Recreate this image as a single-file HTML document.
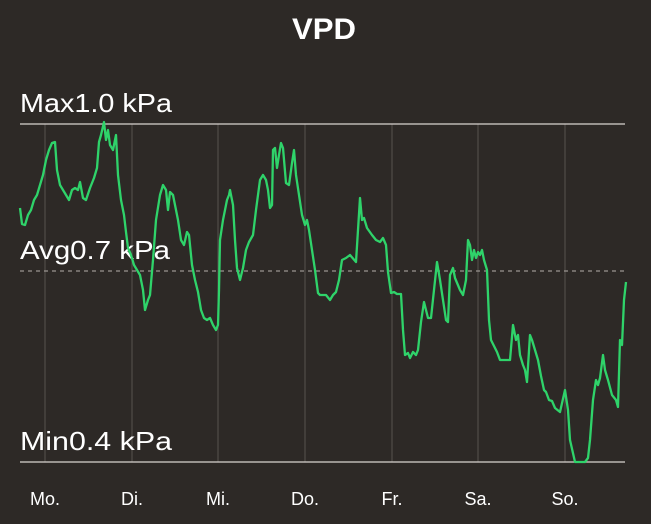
<!DOCTYPE html>
<html><head><meta charset="utf-8"><style>
html,body{margin:0;padding:0;background:#2d2926;}
svg{display:block;}
</style></head><body>
<svg width="651" height="524" viewBox="0 0 651 524" xmlns="http://www.w3.org/2000/svg" font-family="Liberation Sans, sans-serif">
<rect width="651" height="524" fill="#2d2926"/>
<text x="292" y="39" fill="#fff" font-size="30" font-weight="bold" textLength="64" lengthAdjust="spacingAndGlyphs">VPD</text>
<g stroke="#57524e" stroke-width="1">
<line x1="45" y1="124" x2="45" y2="462"/><line x1="132" y1="124" x2="132" y2="462"/><line x1="218" y1="124" x2="218" y2="462"/><line x1="305" y1="124" x2="305" y2="462"/><line x1="392" y1="124" x2="392" y2="462"/><line x1="478" y1="124" x2="478" y2="462"/><line x1="565" y1="124" x2="565" y2="462"/>
</g>
<line x1="20" y1="124" x2="625" y2="124" stroke="#d8d4d0" stroke-width="1.2"/>
<line x1="20" y1="462" x2="625" y2="462" stroke="#d8d4d0" stroke-width="1.2"/>
<line x1="20" y1="271" x2="625" y2="271" stroke="#9a9590" stroke-width="1.2" stroke-dasharray="4,4"/>
<g fill="#fff" font-size="26">
<text x="20" y="112" textLength="152" lengthAdjust="spacingAndGlyphs">Max1.0 kPa</text>
<text x="20" y="259" textLength="150" lengthAdjust="spacingAndGlyphs">Avg0.7 kPa</text>
<text x="20" y="450" textLength="152" lengthAdjust="spacingAndGlyphs">Min0.4 kPa</text>
</g>
<g fill="#fff" font-size="18" text-anchor="middle">
<text x="45" y="505">Mo.</text><text x="132" y="505">Di.</text><text x="218" y="505">Mi.</text><text x="305" y="505">Do.</text><text x="392" y="505">Fr.</text><text x="478" y="505">Sa.</text><text x="565" y="505">So.</text>
</g>
<polyline fill="none" stroke="#2fd36a" stroke-width="2.3" stroke-linejoin="round" points="20,208 22,224 25,225 28,215 31,210 34,200 37,195 40,185 43,175 46,160 49,150 52,143 55,142 57,170 60,185 63,190 66,195 69,200 72,190 75,188 78,190 80,182 83,198 86,200 90,188 94,178 97,168 99,142 101,135 104,122 106,140 108,130 110,145 113,150 116,135 118,175 121,200 124,215 126,232 128,248 131,255 134,265 137,270 140,275 143,290 145,310 148,300 150,295 153,260 156,220 160,195 163,185 166,190 168,210 170,192 173,195 176,210 178,220 181,240 184,245 187,232 189,235 192,265 195,280 198,292 201,310 204,318 207,320 210,318 213,325 216,330 218,325 219,290 220,240 223,220 227,200 229,195 230,190 233,205 235,240 237,268 240,280 243,268 246,250 249,242 253,235 256,210 258,195 260,180 263,175 266,180 268,190 270,208 272,205 273,150 275,148 277,168 279,155 281,143 283,148 286,183 289,185 292,163 294,150 296,175 299,195 302,215 305,225 307,220 309,230 312,250 315,270 318,293 320,295 326,295 330,300 333,295 336,292 339,280 342,260 346,258 350,255 356,262 358,230 360,198 362,220 364,218 367,228 372,235 376,240 380,242 383,238 386,245 388,272 391,293 394,292 397,294 401,294 403,330 405,355 408,353 410,358 413,352 416,355 418,350 421,322 424,302 426,310 428,318 431,318 434,290 437,262 440,280 443,300 446,320 448,322 450,275 453,268 455,278 460,290 463,295 466,280 468,240 470,245 472,260 474,250 476,258 478,252 480,255 482,250 484,260 487,270 489,320 491,340 494,346 497,352 500,360 503,360 510,360 513,325 516,340 518,335 520,355 523,365 525,370 527,382 530,335 532,340 535,350 538,360 541,376 544,390 546,392 549,400 552,401 555,408 560,412 565,390 568,410 570,440 575,462 585,462 588,458 590,440 593,400 596,380 598,385 600,378 603,355 605,370 608,380 612,395 616,400 618,407 620,340 622,345 624,300 626,282"/>
</svg>
</body></html>
